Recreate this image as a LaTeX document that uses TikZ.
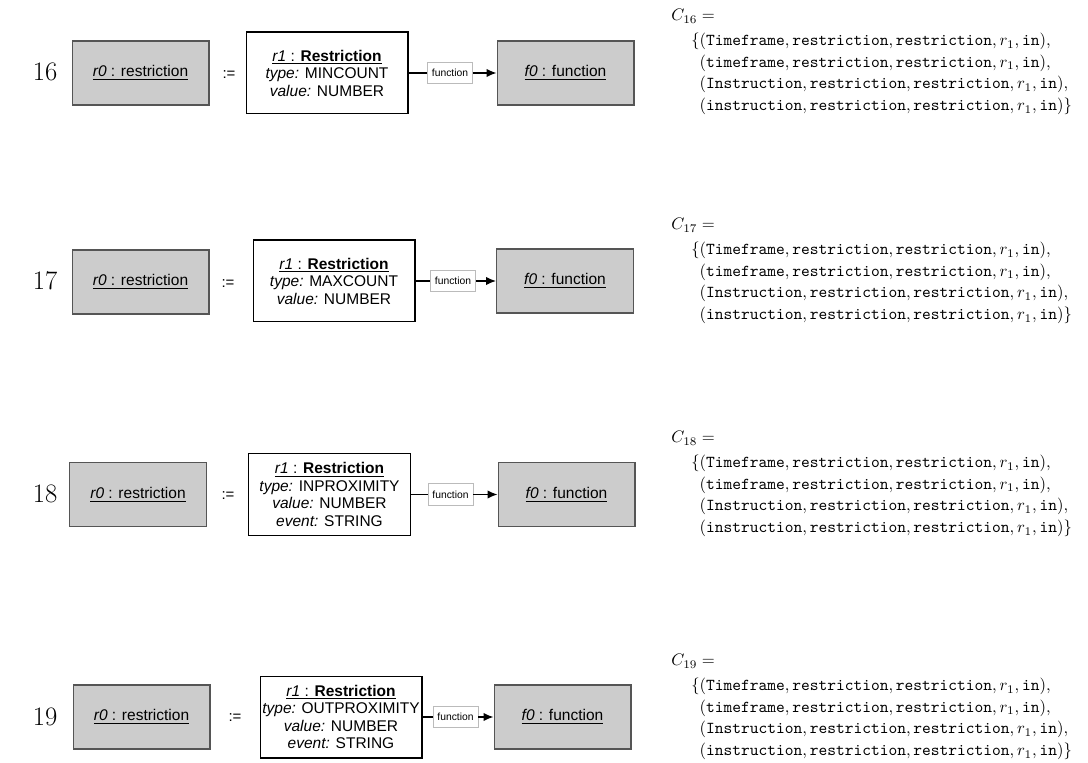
\documentclass[tikz,border=0pt]{standalone}
\usepackage{fontspec}
\usetikzlibrary{positioning,arrows.meta}
\newfontfamily\umlfont{Liberation Sans}
\definecolor{BoxGray}{HTML}{CCCCCC}
\definecolor{EdgeGray}{HTML}{555555}
\definecolor{TagGray}{HTML}{BBBBBB}
\newcommand\objname[2]{\underline{\textit{#1} : #2}}
\newcommand\constraintset[1]{%
  $C_{#1} =$\\[2pt]
  \hspace*{12pt}$\{(\texttt{Timeframe}, \texttt{restriction}, \texttt{restriction}, r_1, \texttt{in}),$\\
  \hspace*{12pt}$\hphantom{\{}(\texttt{timeframe}, \texttt{restriction}, \texttt{restriction}, r_1, \texttt{in}),$\\
  \hspace*{12pt}$\hphantom{\{}(\texttt{Instruction}, \texttt{restriction}, \texttt{restriction}, r_1, \texttt{in}),$\\
  \hspace*{12pt}$\hphantom{\{}(\texttt{instruction}, \texttt{restriction}, \texttt{restriction}, r_1, \texttt{in})\}$}

\begin{document}
\begin{tikzpicture}[x=0.6pt,y=-0.6pt,
  objbox/.style={draw=EdgeGray,fill=BoxGray,line width=0.8pt,minimum width=82pt,minimum height=38.5pt,inner sep=0pt,font=\umlfont\fontsize{9.3}{10.5}\selectfont},
  clsbox/.style={draw=black,line width=0.8pt,minimum width=97pt,minimum height=49pt,align=center,inner sep=1pt,font=\umlfont\fontsize{9.3}{10.5}\selectfont},
  tag/.style={draw=TagGray,line width=0.5pt,fill=white,minimum width=27pt,minimum height=13pt,inner sep=0pt,font=\umlfont\fontsize{6.2}{7}\selectfont},
  rownum/.style={font=\fontsize{16}{16}\selectfont},
  assign/.style={font=\umlfont\fontsize{9}{10}\selectfont},
  cset/.style={anchor=west,align=left,inner sep=0pt,font=\fontsize{10}{13}\selectfont},
  link/.style={line width=0.7pt},
  arr/.style={line width=0.7pt,-{Latex[length=6pt,width=5pt]}}]
  \useasboundingbox (0,0) rectangle (1088,763);

  % row 16
  \node[rownum] (num16) at (45,72) {16};
  \node[objbox] (src16) at (140.5,73) {\objname{r0}{restriction}};
  \node[assign] (asg16) at (229,75) {:=};
  \node[clsbox] (cls16) at (327,73) {\objname{r1}{\textbf{Restriction}}\\\textit{type:} MINCOUNT\\\textit{value:} NUMBER};
  \node[tag] (tag16) at (450,73) {function};
  \node[objbox] (fun16) at (565.5,73) {\objname{f0}{function}};
  \draw[link] (cls16) -- (tag16);
  \draw[arr] (tag16) -- (fun16);
  \node[cset] (set16) at (671,62) {\constraintset{16}};

  % row 17
  \node[rownum] (num17) at (45,281) {17};
  \node[objbox] (src17) at (140.5,282) {\objname{r0}{restriction}};
  \node[assign] (asg17) at (228,284) {:=};
  \node[clsbox] (cls17) at (334,281) {\objname{r1}{\textbf{Restriction}}\\\textit{type:} MAXCOUNT\\\textit{value:} NUMBER};
  \node[tag] (tag17) at (453,281) {function};
  \node[objbox] (fun17) at (565,281) {\objname{f0}{function}};
  \draw[link] (cls17) -- (tag17);
  \draw[arr] (tag17) -- (fun17);
  \node[cset] (set17) at (671,271) {\constraintset{17}};

  % row 18
  \node[rownum] (num18) at (45,494) {18};
  \node[objbox] (src18) at (138,494.5) {\objname{r0}{restriction}};
  \node[assign] (asg18) at (228,496) {:=};
  \node[clsbox] (cls18) at (329.5,494.5) {\objname{r1}{\textbf{Restriction}}\\\textit{type:} INPROXIMITY\\\textit{value:} NUMBER\\\textit{event:} STRING};
  \node[tag] (tag18) at (450.5,494.5) {function};
  \node[objbox] (fun18) at (566.5,494.5) {\objname{f0}{function}};
  \draw[link] (cls18) -- (tag18);
  \draw[arr] (tag18) -- (fun18);
  \node[cset] (set18) at (671,484) {\constraintset{18}};

  % row 19
  \node[rownum] (num19) at (45,717) {19};
  \node[objbox] (src19) at (141.5,717) {\objname{r0}{restriction}};
  \node[assign] (asg19) at (235,718) {:=};
  \node[clsbox] (cls19) at (341,717) {\objname{r1}{\textbf{Restriction}}\\\textit{type:} OUTPROXIMITY\\\textit{value:} NUMBER\\\textit{event:} STRING};
  \node[tag] (tag19) at (455.5,717) {function};
  \node[objbox] (fun19) at (562.5,717) {\objname{f0}{function}};
  \draw[link] (cls19) -- (tag19);
  \draw[arr] (tag19) -- (fun19);
  \node[cset] (set19) at (671,707) {\constraintset{19}};
\end{tikzpicture}
\end{document}
